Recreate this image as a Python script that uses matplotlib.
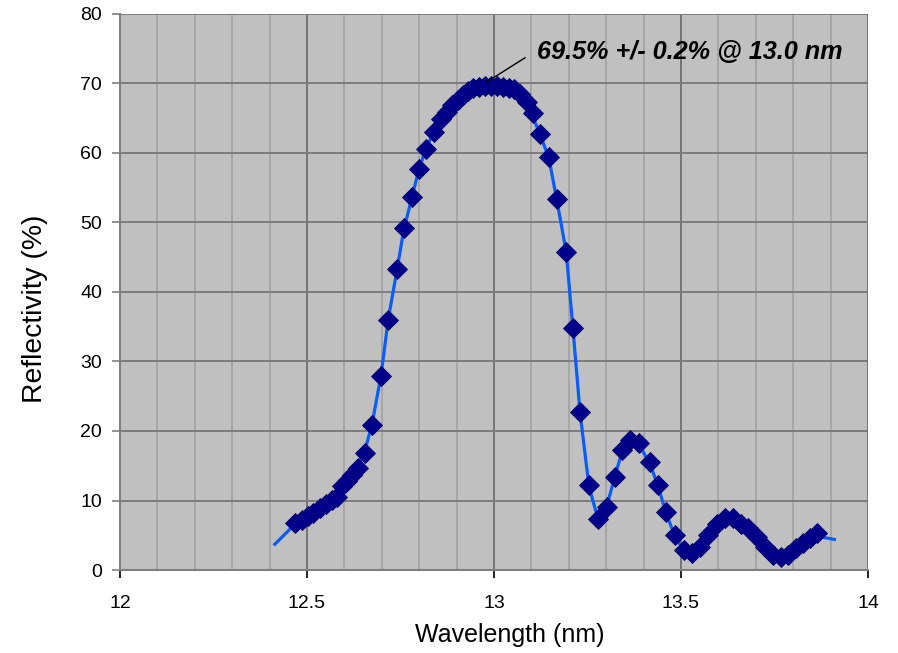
import matplotlib
matplotlib.use('Agg')
import matplotlib.pyplot as plt
from matplotlib.ticker import MultipleLocator

plt.rcParams['font.family'] = ['Liberation Sans', 'DejaVu Sans']

# Measured reflectivity (%) vs wavelength (nm)
wl = [12.468, 12.487, 12.503, 12.516, 12.535, 12.551, 12.567, 12.580, 12.594, 12.607,
      12.620, 12.636, 12.655, 12.674, 12.698, 12.717, 12.741, 12.759, 12.781, 12.799,
      12.818, 12.840, 12.858, 12.874, 12.888, 12.904, 12.917, 12.930, 12.944, 12.960,
      12.976, 12.992, 13.008, 13.024, 13.040, 13.053, 13.070, 13.088, 13.104, 13.123,
      13.147, 13.168, 13.193, 13.211, 13.230, 13.254, 13.278, 13.302, 13.324, 13.342,
      13.364, 13.388, 13.417, 13.439, 13.460, 13.484, 13.508, 13.529, 13.551, 13.572,
      13.596, 13.618, 13.639, 13.660, 13.679, 13.703, 13.725, 13.746, 13.767, 13.786,
      13.807, 13.826, 13.845, 13.864]
refl = [6.8, 7.2, 7.8, 8.2, 8.9, 9.5, 10.1, 10.5, 12.1, 12.8,
        13.7, 14.7, 16.8, 20.9, 27.9, 36.0, 43.3, 49.2, 53.7, 57.7,
        60.6, 63.0, 64.9, 65.9, 66.9, 67.6, 68.3, 68.9, 69.3, 69.5,
        69.6, 69.6, 69.6, 69.5, 69.3, 69.2, 68.5, 67.3, 65.8, 62.7,
        59.4, 53.4, 45.8, 34.8, 22.7, 12.2, 7.3, 9.1, 13.4, 17.3,
        18.7, 18.3, 15.5, 12.2, 8.3, 5.0, 2.9, 2.4, 3.3, 5.0,
        6.6, 7.5, 7.5, 6.6, 6.0, 4.7, 3.3, 2.2, 1.9, 2.2,
        3.2, 3.9, 4.6, 5.3]

# Fitted model curve
fit_wl = [12.414, 12.468, 12.516, 12.567, 12.607, 12.636, 12.655, 12.674, 12.698, 12.717,
          12.741, 12.759, 12.781, 12.799, 12.818, 12.840, 12.874, 12.904, 12.930, 12.960,
          12.992, 13.024, 13.053, 13.088, 13.123, 13.147, 13.168, 13.193, 13.211, 13.230,
          13.254, 13.280, 13.302, 13.324, 13.342, 13.364, 13.388, 13.417, 13.439, 13.460,
          13.484, 13.508, 13.529, 13.551, 13.572, 13.596, 13.625, 13.660, 13.703, 13.746,
          13.770, 13.807, 13.845, 13.880, 13.910]
fit_refl = [3.7, 6.6, 8.3, 10.2, 12.9, 14.9, 17.2, 21.0, 28.0, 36.0,
            43.3, 49.0, 53.7, 57.6, 60.6, 63.2, 66.1, 67.9, 69.0, 69.6,
            69.8, 69.6, 68.9, 67.2, 62.7, 59.2, 53.2, 45.8, 34.8, 22.7,
            12.0, 7.0, 9.3, 13.6, 17.0, 18.5, 18.0, 15.3, 12.0, 8.2,
            4.8, 2.8, 2.4, 3.3, 5.0, 6.5, 7.3, 6.6, 4.7, 2.2,
            1.9, 3.2, 4.6, 4.7, 4.4]

peak_label = '69.5% +/- 0.2% @ 13.0 nm'

fig = plt.figure(figsize=(8.98, 6.53), dpi=100)
ax = fig.add_axes([0.1336, 0.1271, 0.8330, 0.8515])
ax.set_facecolor('#c0c0c0')

ax.set_xlim(12, 14)
ax.set_ylim(0, 80)
ax.xaxis.set_minor_locator(MultipleLocator(0.1))
ax.yaxis.set_major_locator(MultipleLocator(10))
ax.set_xticks([12, 12.5, 13, 13.5, 14])
ax.set_xticklabels(['12', '12.5', '13', '13.5', '14'])

ax.grid(True, which='minor', axis='x', color='#a4a4a4', lw=1.3)
ax.grid(True, which='major', axis='x', color='#747474', lw=1.4)
ax.grid(True, which='major', axis='y', color='#7c7c7c', lw=1.4)
ax.set_axisbelow(True)

for side in ['top', 'right']:
    ax.spines[side].set_visible(False)
for side in ['left', 'bottom']:
    ax.spines[side].set_color('#808080')
    ax.spines[side].set_linewidth(1.5)

ax.tick_params(axis='both', which='major', direction='out', length=6, width=1.2,
               color='#808080', labelsize=14, pad=7)
ax.tick_params(axis='x', which='major', color='black', pad=12)
ax.tick_params(axis='x', which='minor', length=0)

ax.plot(fit_wl, fit_refl, color='#0a5cff', lw=2.3, zorder=3)
ax.plot(wl, refl, 'D', color='#00008b', markersize=10, markeredgecolor='#000070',
        markeredgewidth=0.6, zorder=4)

# leader line from the peak to the label
ax.plot([12.98, 13.083], [70.2, 73.7], color='black', lw=1.0, zorder=5)
ax.text(13.115, 74.6, peak_label, fontsize=18.2, fontweight='bold',
        fontstyle='italic', va='center', ha='left', zorder=5)

ax.set_xlabel('Wavelength (nm)', fontsize=18)
ax.set_ylabel('Reflectivity (%)', fontsize=20.3)
ax.xaxis.set_label_coords(0.521, -0.096)
ax.yaxis.set_label_coords(-0.096, 0.469)

fig.savefig('out.png', dpi=100)
